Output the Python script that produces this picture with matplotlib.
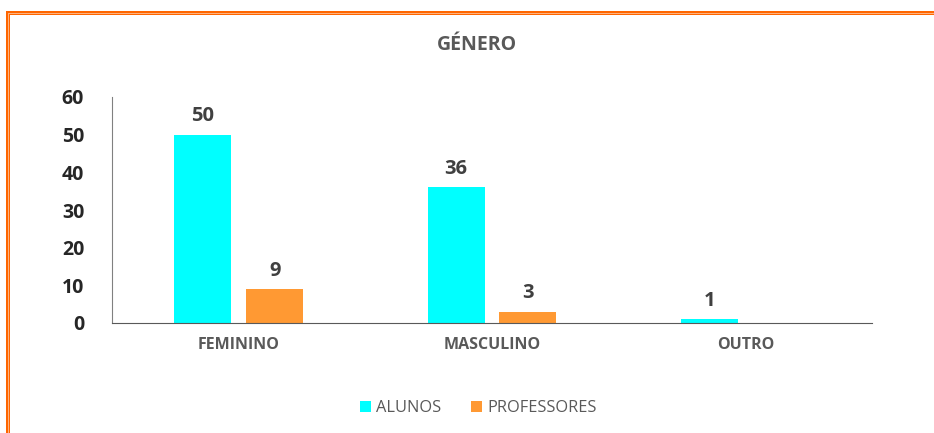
import matplotlib.pyplot as plt
import numpy as np
from matplotlib.lines import Line2D

categories = ["FEMININO", "MASCULINO", "OUTRO"]
alunos = [50, 36, 1]
professores = [9, 3, 0]
series_names = ["ALUNOS", "PROFESSORES"]

plt.rcParams['font.family'] = ['Open Sans', 'DejaVu Sans']

W, H = 934, 433
fig = plt.figure(figsize=(W / 100, H / 100), dpi=100)
ax = fig.add_axes([112 / W, 1 - 323 / H, (872 - 112) / W, (323 - 97) / H])

x = np.arange(len(categories))
bw = 0.225
off = 0.142
b1 = ax.bar(x - off, alunos, bw, color="#00FFFF", label=series_names[0])
b2 = ax.bar(x + off, professores, bw, color="#FF9933", label=series_names[1])

for bars, vals in ((b1, alunos), (b2, professores)):
    for r, v in zip(bars, vals):
        if v == 0:
            continue
        ax.annotate(str(v), (r.get_x() + r.get_width() / 2, v), xytext=(0, 6),
                    textcoords="offset points", ha="center", va="bottom",
                    fontsize=14.5, fontweight="bold", color="#404040")

ax.set_xlim(-0.5, 2.5)
ax.set_ylim(0, 60)
ax.set_yticks(range(0, 61, 10))
ax.set_xticks(x)
ax.set_xticklabels(categories, fontsize=11.5, fontweight="bold", color="#595959")
ax.tick_params(axis="x", length=0, pad=10)
ax.tick_params(axis="y", length=0, pad=20, labelsize=14, labelcolor="#262626")
for lab in ax.get_yticklabels():
    lab.set_fontweight("bold")
for s in ("top", "right"):
    ax.spines[s].set_visible(False)
ax.spines["left"].set_color("#808080")
ax.spines["bottom"].set_color("#595959")

fig.text(477 / W, 1 - 45 / H, "GÉNERO", ha="center", va="center",
         fontsize=14, fontweight="bold", color="#595959")

fig.legend(handles=[b1, b2], loc="center", bbox_to_anchor=(478 / W, 1 - 408 / H),
           ncol=2, frameon=False, fontsize=11.8, labelcolor="#595959",
           handlelength=0.7, handleheight=0.7, handletextpad=0.3, columnspacing=1.8)

# orange double border (left and top)
for px, c, lw in ((7.5, "#FF6600", 4), (7.5, "#FFB27F", 1)):
    fig.add_artist(Line2D([px / W, px / W], [0, 1 - px * 1.0 / H - 5 / H],
                          transform=fig.transFigure, color=c, lw=lw * 0.72))
    fig.add_artist(Line2D([px / W, 1], [1 - (px + 5) / H, 1 - (px + 5) / H],
                          transform=fig.transFigure, color=c, lw=lw * 0.72))

fig.savefig("out.png", dpi=100, facecolor="white")
